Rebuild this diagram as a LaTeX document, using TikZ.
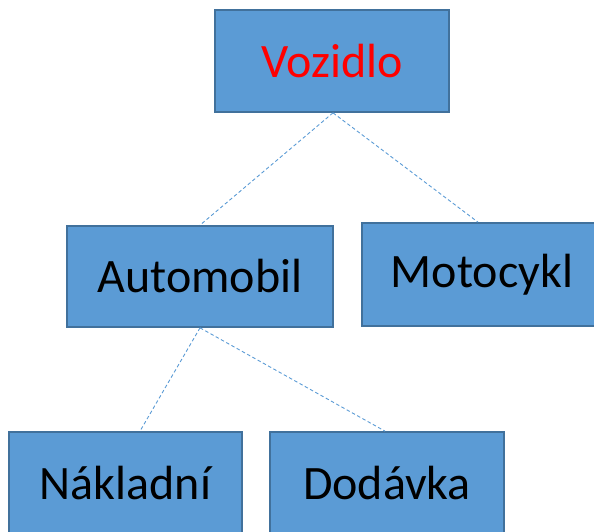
\documentclass[tikz,border=0pt]{standalone}
\usepackage{fontspec}
\setmainfont{Carlito}
\definecolor{boxfill}{HTML}{5B9BD5}
\definecolor{boxline}{HTML}{41719C}
\definecolor{conn}{HTML}{5B9BD5}
\tikzset{
  cbox/.style={draw=boxline, line width=1.7pt, fill=boxfill, inner sep=0pt,
    font=\fontsize{48}{54}\selectfont, text=black},
  conn/.style={draw=conn, line width=0.9pt, dash pattern=on 3.5pt off 2.5pt}
}
\begin{document}
\begin{tikzpicture}[x=1pt,y=-1pt]
\useasboundingbox (0,0) rectangle (594,532);
\begin{scope}
\clip (0,0) rectangle (594,532);
\node[cbox, minimum width=234pt, minimum height=102pt, text=red] (voz) at (332,61) {\raisebox{-2pt}{Vozidlo}};
\node[cbox, minimum width=266pt, minimum height=101pt] (auto) at (200,276.5) {\raisebox{-2pt}{Automobil}};
\node[cbox, minimum width=240pt, minimum height=103pt] (moto) at (482,274.5) {\raisebox{-2pt}{Motocykl}};
\node[cbox, minimum width=233pt, minimum height=102pt] (nak) at (125.5,483) {\raisebox{-2pt}{Nákladní}};
\node[cbox, minimum width=234pt, minimum height=102pt] (dod) at (387,483) {\raisebox{-2pt}{Dodávka}};
\draw[conn] ([xshift=1pt]voz.south) -- (auto.north);
\draw[conn] ([xshift=1pt]voz.south) -- ([xshift=-4pt]moto.north);
\draw[conn] (auto.south) -- ([xshift=14.5pt]nak.north);
\draw[conn] (auto.south) -- ([xshift=-2pt]dod.north);
\end{scope}
\end{tikzpicture}
\end{document}
